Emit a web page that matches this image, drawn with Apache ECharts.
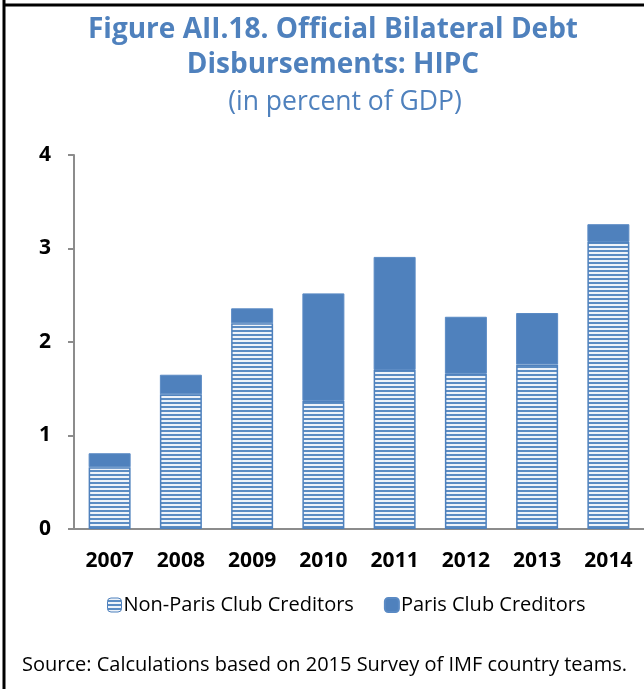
<!DOCTYPE html>
<html>
<head>
<meta charset="utf-8">
<script src="https://cdn.jsdelivr.net/npm/echarts@6/dist/echarts.min.js"></script>
<style>
  html, body { margin: 0; padding: 0; background: #fff; }
  #chart { width: 644px; height: 689px; }
</style>
</head>
<body>
<div id="chart"></div>
<script>
// Official bilateral debt disbursements to HIPC, percent of GDP
const years = ['2007', '2008', '2009', '2010', '2011', '2012', '2013', '2014'];
const nonParisClub = [0.66, 1.44, 2.20, 1.37, 1.70, 1.66, 1.76, 3.07];
const parisClub = [0.15, 0.21, 0.16, 1.15, 1.21, 0.61, 0.55, 0.19];
const yTicks = [0, 1, 2, 3, 4];

const BLUE = '#4f81bd';
const FONT = '"Open Sans", "Noto Sans", sans-serif';

// horizontal stripe fill for the non-Paris Club bars
function stripePattern() {
  const c = document.createElement('canvas');
  c.width = 4; c.height = 4;
  const g = c.getContext('2d');
  g.fillStyle = '#eef3f9';
  g.fillRect(0, 0, 4, 4);
  g.fillStyle = '#5b8cc3';
  g.fillRect(0, 2, 4, 2);
  return c;
}
const stripes = { image: stripePattern(), repeat: 'repeat' };

const chart = echarts.init(document.getElementById('chart'), null, { renderer: 'canvas' });
chart.setOption({
  animation: false,
  backgroundColor: '#fff',
  title: [
    {
      text: 'Figure AII.18. Official Bilateral Debt\nDisbursements: HIPC',
      left: 328, textAlign: 'center', top: 8,
      textStyle: { fontFamily: FONT, fontWeight: 'bold', fontSize: 28, color: '#4f81bd', lineHeight: 35 }
    },
    {
      text: '(in percent of GDP)',
      left: 340, textAlign: 'center', top: 84,
      textStyle: { fontFamily: FONT, fontWeight: 'normal', fontSize: 26.5, color: '#4f81bd' }
    }
  ],
  legend: {
    top: 590, left: 102,
    itemGap: 30, itemWidth: 14, itemHeight: 14,
    textStyle: { fontFamily: FONT, fontSize: 20, color: '#000', padding: [0, 0, 0, -3] },
    data: [
      { name: 'Non-Paris Club Creditors', itemStyle: { color: stripes, borderColor: BLUE, borderWidth: 1 } },
      { name: 'Paris Club Creditors', itemStyle: { color: BLUE } }
    ]
  },
  grid: { left: 74, right: -3, top: 155, bottom: 160, containLabel: false },
  xAxis: {
    type: 'category',
    data: years,
    axisLine: { lineStyle: { color: '#8c8c8c', width: 2 } },
    axisTick: { show: false },
    axisLabel: { fontFamily: FONT, fontWeight: 'bold', fontSize: 21, color: '#000', margin: 22 }
  },
  yAxis: {
    type: 'value',
    min: yTicks[0], max: yTicks[yTicks.length - 1], interval: 1,
    axisLine: { show: true, lineStyle: { color: '#8c8c8c', width: 2 } },
    axisTick: { show: true, length: 6, lineStyle: { color: '#8c8c8c', width: 2 } },
    splitLine: { show: false },
    axisLabel: { fontFamily: FONT, fontWeight: 'bold', fontSize: 21, color: '#000', margin: 23 }
  },
  series: [
    {
      name: 'Non-Paris Club Creditors',
      type: 'bar', stack: 'total', barWidth: 42,
      data: nonParisClub,
      itemStyle: { color: stripes, borderColor: BLUE, borderWidth: 1.5 }
    },
    {
      name: 'Paris Club Creditors',
      type: 'bar', stack: 'total', barWidth: 42,
      data: parisClub,
      itemStyle: { color: BLUE, borderColor: '#5a8ac4', borderWidth: 1 }
    }
  ],
  graphic: [
    { type: 'line', shape: { x1: 4, y1: 0, x2: 4, y2: 689 }, style: { stroke: '#000', lineWidth: 3 } },
    { type: 'line', shape: { x1: 4, y1: 5, x2: 644, y2: 5 }, style: { stroke: '#000', lineWidth: 3 } },
    {
      type: 'text', left: 22, top: 655,
      style: { text: 'Source: Calculations based on 2015 Survey of IMF country teams.', font: '20px ' + FONT, fill: '#000' }
    }
  ]
});
</script>
</body>
</html>
